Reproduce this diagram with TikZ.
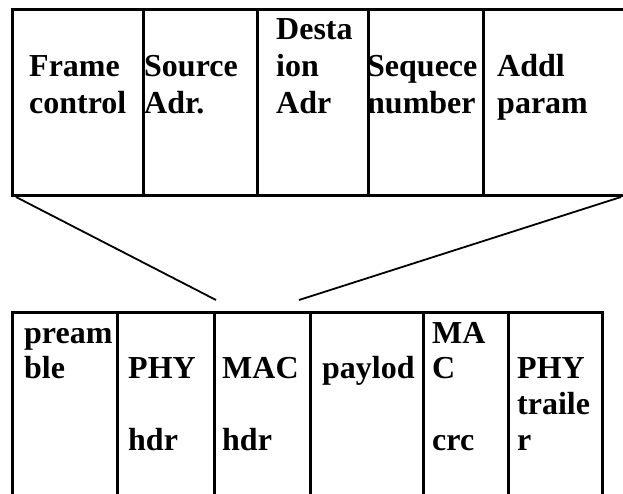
\documentclass[tikz,border=0pt]{standalone}
\usepackage{fontspec}
\setmainfont{Liberation Serif}
\begin{document}
\begin{tikzpicture}[x=1pt,y=-1pt,
  lbl/.style={inner sep=0pt,anchor=base west,font=\fontsize{32}{36}\selectfont\bfseries},
  boxline/.style={line width=3pt},
  fanline/.style={line width=1.8pt}]
\useasboundingbox (0,0) rectangle (623,494);
% top frame (MAC header fields)
\draw[boxline] (623,10) -- (12,10) -- (12,196) -- (623,196);
\foreach \x in {143,257,368,483} \draw[boxline] (\x,10) -- (\x,196);
% bottom frame
\draw[boxline] (12,494) -- (12,312) -- (602,312) -- (602,494);
\foreach \x in {117,214,310,423,508} \draw[boxline] (\x,312) -- (\x,494);
% fan lines
\coordinate (tl) at (16,197);
\coordinate (tr) at (621,197);
\coordinate (bl) at (216,300);
\coordinate (br) at (299,300);
\draw[fanline] (tl) -- (bl);
\draw[fanline] (tr) -- (br);
% top texts
\node[lbl] (t1a) at (29,77) {Frame};
\node[lbl] (t1b) at (29,114) {control};
\node[lbl] (t2a) at (144,77) {Source};
\node[lbl] (t2b) at (144,114) {Adr.};
\node[lbl] (t3a) at (276,40) {Desta};
\node[lbl] (t3b) at (276,77) {ion};
\node[lbl] (t3c) at (276,114) {Adr};
\node[lbl] (t4a) at (367,77) {Sequece};
\node[lbl] (t4b) at (367,114) {number};
\node[lbl] (t5a) at (497,77) {Addl};
\node[lbl] (t5b) at (497,114) {param};
% bottom texts
\node[lbl] (b1a) at (24,343) {pream};
\node[lbl] (b1b) at (24,378) {ble};
\node[lbl] (b2a) at (128,378) {PHY};
\node[lbl] (b2b) at (128,450) {hdr};
\node[lbl] (b3a) at (222,378) {MAC};
\node[lbl] (b3b) at (222,450) {hdr};
\node[lbl] (b4a) at (322,378) {paylod};
\node[lbl] (b5a) at (432,343) {MA};
\node[lbl] (b5b) at (432,378) {C};
\node[lbl] (b5c) at (432,450) {crc};
\node[lbl] (b6a) at (517,378) {PHY};
\node[lbl] (b6b) at (517,414) {traile};
\node[lbl] (b6c) at (517,450) {r};
\end{tikzpicture}
\end{document}
